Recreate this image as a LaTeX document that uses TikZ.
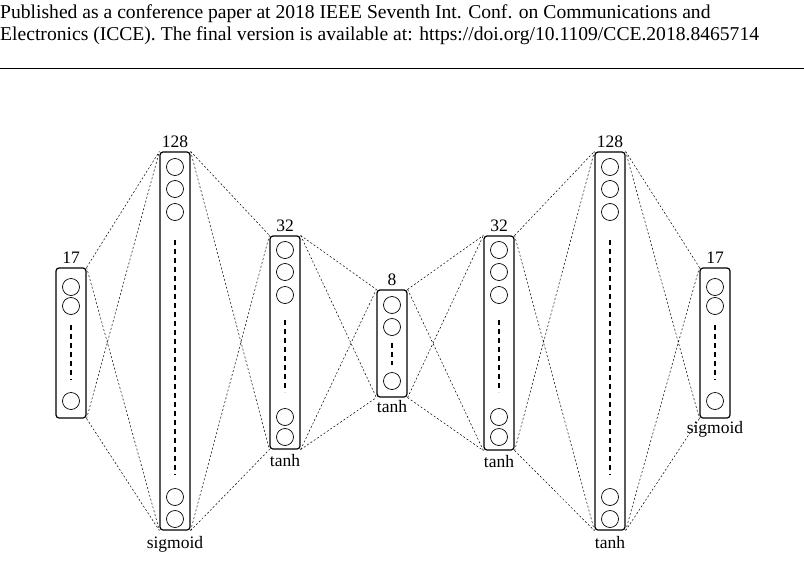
\documentclass[tikz,border=0pt]{standalone}
\usepackage{fontspec}
\setmainfont{Liberation Serif}
\begin{document}
\begin{tikzpicture}[x=1pt,y=-1pt,
  layer/.style={draw,line width=1.2pt,rounded corners=3pt,inner sep=0pt},
  neu/.style={draw,circle,minimum size=17pt,inner sep=0pt,line width=0.7pt},
  con/.style={dashed,line width=0.5pt,dash pattern=on 2pt off 2pt},
  dots/.style={line width=1.3pt,dash pattern=on 5pt off 4pt},
  lab/.style={font=\fontsize{17.5}{17.5}\selectfont}]
\useasboundingbox (0,0) rectangle (804,568);
\node[anchor=north west,align=left,inner sep=0pt,font=\fontsize{19.6}{22}\selectfont] (hdr) at (0,4)
 {Published as a conference paper at 2018 IEEE Seventh Int. Conf. on Communications and\\Electronics (ICCE). The final version is available at: https://doi.org/10.1109/CCE.2018.8465714};
\coordinate (r1) at (0,68); \coordinate (r2) at (804,68);
\draw[line width=0.6pt] (r1) -- (r2);
\def\mk#1#2#3#4{\node[layer,minimum width=30pt,minimum height=#4-#3 pt] (#1) at (#2,{(#3+#4)/2}) {};}
\mk{A}{71}{268}{418}
\mk{B}{175}{152}{530}
\mk{C}{285}{236}{449}
\mk{D}{392}{290}{397}
\mk{E}{499}{236}{450}
\mk{F}{610}{152}{530}
\mk{G}{715}{268}{418}
\foreach \n/\x/\ys in {A/71/{287,306,401},B/175/{167,189,212,497,519},C/285/{250,272,295,417,437},D/392/{305,327,381},E/499/{250,272,295,417,437},F/610/{167,189,212,497,519},G/715/{287,306,401}}
 \foreach \y [count=\i] in \ys \node[neu] (\n\i) at (\x,\y) {};
\foreach \x/\a/\b in {71/325/380,175/240/475,285/320/392,392/343/365,499/320/392,610/240/475,715/325/380}
 {\coordinate (p) at (\x,\a); \coordinate (q) at (\x,\b); \draw[dots] (p) -- (q);}
\node[lab] (l1) at (A.north) [above=0pt] {17};
\node[lab] (l2) at (B.north) [above=0pt] {128};
\node[lab] (l3) at (C.north) [above=0pt] {32};
\node[lab] (l4) at (D.north) [above=0pt] {8};
\node[lab] (l5) at (E.north) [above=0pt] {32};
\node[lab] (l6) at (F.north) [above=0pt] {128};
\node[lab] (l7) at (G.north) [above=0pt] {17};
\node[lab] (s2) at (B.south) [below=2pt] {sigmoid};
\node[lab] (s3) at (C.south) [below=1pt] {tanh};
\node[lab] (s4) at (D.south) [below=-1pt] {tanh};
\node[lab] (s5) at (E.south) [below=1pt] {tanh};
\node[lab] (s6) at (F.south) [below=2pt] {tanh};
\node[lab] (s7) at (G.south) [below=-1pt] {sigmoid};
\foreach \u/\v in {A/B,B/C,C/D,D/E,E/F,F/G}
 \draw[con] (\u.north east) -- (\v.north west) (\u.north east) -- (\v.south west)
            (\u.south east) -- (\v.north west) (\u.south east) -- (\v.south west);
\end{tikzpicture}
\end{document}
